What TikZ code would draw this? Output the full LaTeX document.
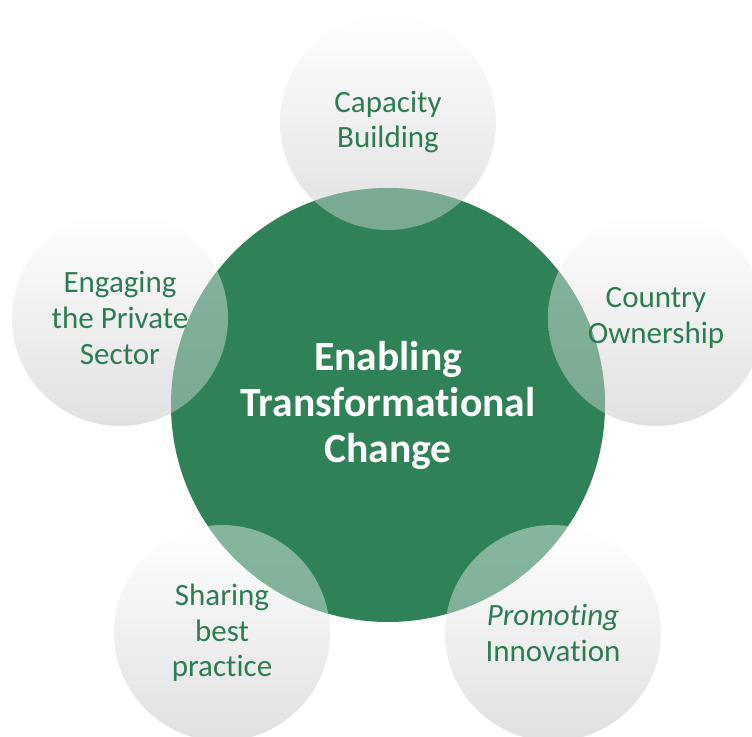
\documentclass[tikz,border=0pt]{standalone}
\usepackage{fontspec}
\setmainfont{Carlito}[Ligatures={NoCommon}]
\usetikzlibrary{positioning}

\definecolor{hubgreen}{RGB}{47,130,87}
\definecolor{leafgreen}{RGB}{46,125,80}

\tikzset{
    petal/.style={circle, minimum size=108pt, inner sep=0pt,
        top color=white, middle color=black!4, bottom color=black!12},
    petaltext/.style={text=leafgreen, align=center,
        font=\fontsize{15.5}{17.8}\selectfont},
    hub/.style={circle, minimum size=217pt, inner sep=0pt, fill=hubgreen,
        text=white, align=center, font=\bfseries\fontsize{20.8}{23}\selectfont}
}

\begin{document}
\begin{tikzpicture}[x=0.5pt,y=-0.5pt]
    \useasboundingbox (0,0) rectangle (752,736);

    % Outer circles
    \node[petal] (cap) at (388,122) {};
    \node[petal] (own) at (656,318) {};
    \node[petal] (priv) at (120,318) {};
    \node[petal] (share) at (222,633) {};
    \node[petal] (innov) at (553,633) {};

    % Central circle
    \node[hub] (hub) at (388,405) {Enabling\\Transformational\\Change};

    % Overlaps
    \begin{scope}
        \clip (hub.center) circle[radius=108.5pt];
        \foreach \c in {cap,own,priv,share,innov}
            \shade[top color=white, middle color=black!4, bottom color=black!12,
                opacity=0.42] (\c.center) circle[radius=54pt];
    \end{scope}

    % Labels
    \node[petaltext] (captext) at (cap) {Capacity\\Building};
    \node[petaltext] (owntext) at (own) {Country\\Ownership};
    \node[petaltext] (privtext) at (priv) {Engaging\\the Private\\Sector};
    \node[petaltext] (sharetext) at (share) {Sharing\\best\\practice};
    \node[petaltext] (innovtext) at (innov) {\textit{Promoting}\\Innovation};
\end{tikzpicture}
\end{document}
